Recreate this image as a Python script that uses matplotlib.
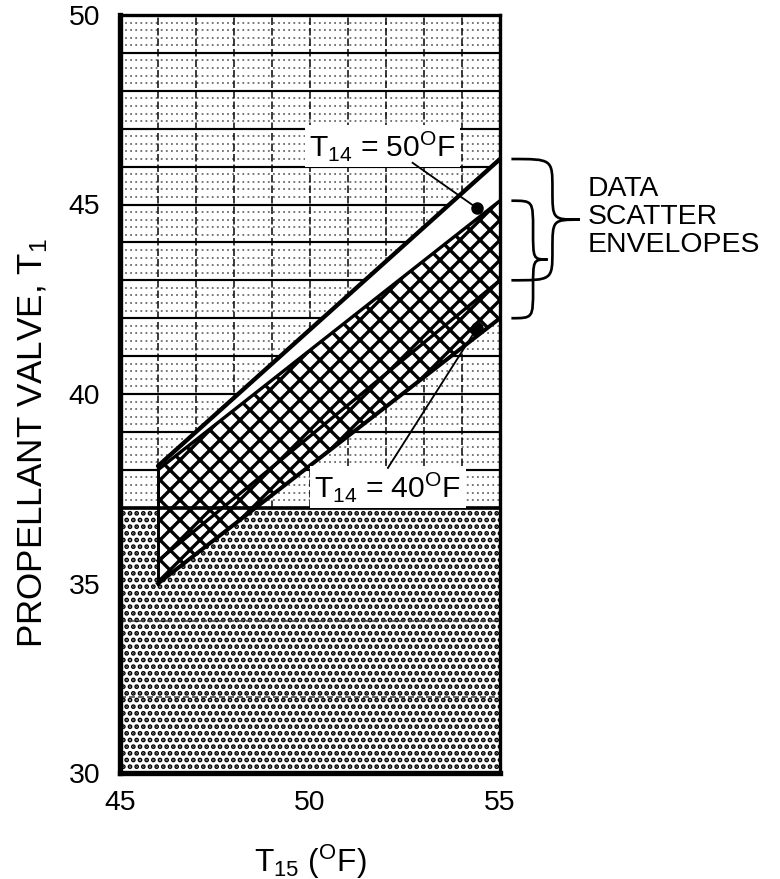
import numpy as np
import matplotlib
matplotlib.use("Agg")
import matplotlib.pyplot as plt
from matplotlib.path import Path
from matplotlib.patches import PathPatch

plt.rcParams['font.family'] = ['Liberation Sans', 'DejaVu Sans']
plt.rcParams['mathtext.fontset'] = 'custom'
plt.rcParams['mathtext.rm'] = 'Liberation Sans'
plt.rcParams['mathtext.it'] = 'Liberation Sans:italic'
plt.rcParams['mathtext.bf'] = 'Liberation Sans:bold'
plt.rcParams['hatch.linewidth'] = 2.0

# ---- data -------------------------------------------------------------
t15_ends = [46.0, 55.0]                 # T15 range covered by the envelopes
env50_upper = [38.1, 46.2]              # T14 = 50 F envelope, upper bound
env50_lower = [35.6, 43.0]              # T14 = 50 F envelope, lower bound
env40_upper = [38.0, 45.1]              # T14 = 40 F envelope, upper bound
env40_lower = [35.0, 42.0]              # T14 = 40 F envelope, lower bound

point50 = (54.4, 44.9)                  # marked point, T14 = 50 F
point40 = (54.4, 41.75)                 # marked point, T14 = 40 F

limit_t1 = 37.0                         # lower boundary of the open region

x_ticks = [45, 50, 55]
y_ticks = [30, 35, 40, 45, 50]

# ---- figure -------------------------------------------------------------
fig = plt.figure(figsize=(6.5, 7.325), dpi=120)
ax = fig.add_axes([120 / 780, 1 - 773 / 879, 380 / 780, 758 / 879])
ax.set_xlim(45, 55)
ax.set_ylim(30, 50)

# stippled region below the limit
ax.axhspan(30, limit_t1, facecolor='white', edgecolor='black',
           hatch='...', lw=0, zorder=0)

# grid paper in the open region
minor = [v for v in np.arange(limit_t1, 50.0, 0.2) if abs(v - round(v)) > 1e-6]
ax.hlines(minor, 45, 55, colors='0.3', lw=0.9, linestyles=(0, (1.2, 2.2)), zorder=1)
ax.hlines(np.arange(38, 50), 45, 55, colors='black', lw=1.3, zorder=1)
ax.vlines(np.arange(46, 55), limit_t1, 50, colors='black', lw=0.9,
          linestyles=(0, (5, 2)), zorder=1)
ax.hlines([32, 34], 45, 55, colors='0.25', lw=0.9, linestyles=(0, (4, 2)), zorder=1)

# envelopes
ax.fill_between(t15_ends, env40_lower, env50_upper, facecolor='white',
                edgecolor='none', zorder=2)
ax.fill_between(t15_ends, env40_lower, env40_upper, facecolor='none',
                edgecolor='black', hatch='xx', lw=0, zorder=3)
ax.plot(t15_ends, env50_upper, color='black', lw=2.6, zorder=4,
        solid_capstyle='round')
ax.plot(t15_ends, env50_lower, color='black', lw=2.0, zorder=4)
ax.plot(t15_ends, env40_upper, color='black', lw=2.0, zorder=4)
ax.plot(t15_ends, env40_lower, color='black', lw=2.4, zorder=4)
ax.plot([t15_ends[0], t15_ends[0]], [env40_lower[0], env50_upper[0]],
        color='black', lw=1.8, zorder=4)

# limit line
ax.axhline(limit_t1, color='black', lw=2.2, zorder=5)

# labels with leaders
box = dict(facecolor='white', edgecolor='none', pad=2.5)
ax.text(51.9, 46.55, r'T$_{\mathrm{14}}$ = 50$^{\mathrm{O}}$F', fontsize=18,
        ha='center', va='center', bbox=box, zorder=6)
ax.text(52.05, 37.55, r'T$_{\mathrm{14}}$ = 40$^{\mathrm{O}}$F', fontsize=18,
        ha='center', va='center', bbox=box, zorder=6)
ax.plot([52.7, point50[0]], [46.1, point50[1]], color='black', lw=1.1, zorder=6)
ax.plot([52.05, point40[0]], [38.05, point40[1]], color='black', lw=1.1, zorder=6)
ax.plot(*point50, 'o', color='black', ms=6.5, zorder=7)
ax.plot(*point40, 'o', color='black', ms=6.5, zorder=7)


def curly_brace(ax, x0, y_top, y_bot, width):
    """Right-facing curly brace from y_top to y_bot starting at x0."""
    q = 0.6 * width
    ym = 0.5 * (y_top + y_bot)
    verts = [
        (x0, y_top), (x0 + q, y_top), (x0 + q, y_top), (x0 + q, 0.5 * (y_top + ym)),
        (x0 + q, ym), (x0 + q, ym), (x0 + width, ym),
        (x0 + q, ym), (x0 + q, ym), (x0 + q, 0.5 * (y_bot + ym)),
        (x0 + q, y_bot), (x0 + q, y_bot), (x0, y_bot),
    ]
    codes = [Path.MOVETO] + [Path.CURVE4] * 12
    ax.add_patch(PathPatch(Path(verts, codes), facecolor='none',
                           edgecolor='black', lw=1.6, clip_on=False, zorder=6))


curly_brace(ax, 55.3, env50_upper[1], env50_lower[1], 1.8)
curly_brace(ax, 55.3, env40_upper[1], env40_lower[1], 0.95)
ax.text(57.3, 44.67, 'DATA\nSCATTER\nENVELOPES', fontsize=17, ha='left',
        va='center', linespacing=1.1)

# axes styling
ax.set_xticks(x_ticks)
ax.set_yticks(y_ticks)
ax.tick_params(length=0, labelsize=17)
ax.tick_params(axis='y', pad=12)
ax.tick_params(axis='x', pad=10)
for side, lw in (('left', 3.2), ('bottom', 3.2), ('top', 2.0), ('right', 2.0)):
    ax.spines[side].set_linewidth(lw)
    ax.spines[side].set_zorder(8)

ax.set_xlabel(r'T$_{\mathrm{15}}$ ($^{\mathrm{O}}$F)', fontsize=19, labelpad=16)
ax.set_ylabel(r'PROPELLANT VALVE, T$_{\mathrm{1}}$', fontsize=21)
ax.yaxis.set_label_coords(-0.185, 0.435)

fig.savefig('out.png', dpi=120)
